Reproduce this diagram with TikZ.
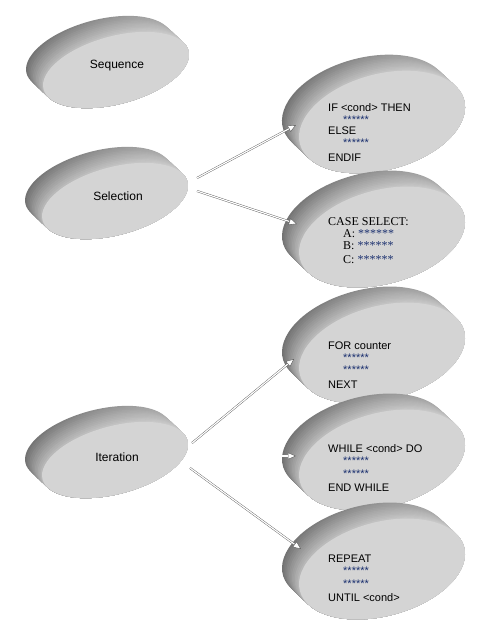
\documentclass[tikz,border=0pt]{standalone}
\usepackage{fontspec}
\setmainfont{Liberation Sans}
\newfontfamily\casefont{Liberation Serif}
\usetikzlibrary{arrows.meta}

\definecolor{starblue}{HTML}{1A2F6E}

% extruded disc: centre x, centre y, x radius, y radius
\newcommand{\disc}[4]{%
  \begin{scope}[shift={(#1,#2)}, rotate=15]
    \pgfmathsetmacro\ta{atan(-#4*(-12.28)/(#3*(-19.86)))}
    \pgfmathsetmacro\tb{\ta+180}
    \pgfmathsetmacro\tc{\ta+360}
    \pgfmathsetmacro\td{\ta+540}
    \foreach \k in {12,...,1}{
      \pgfmathsetmacro\s{\k/12}
      \pgfmathtruncatemacro\dl{27+2.5*\k}
      \pgfmathtruncatemacro\dr{19+0.8*\k}
      \shade[left color=black!\dl, right color=black!\dr]
        ({-12.28*\s+#3*cos(\tb)},{-19.86*\s+#4*sin(\tb)})
        arc[start angle=\tb, end angle=\tc, x radius=#3, y radius=#4]
        -- ({#3*cos(\tc)},{#4*sin(\tc)})
        arc[start angle=\tc, end angle=\td, x radius=#3, y radius=#4]
        -- cycle;
    }
    \fill[black!17] (0,0) ellipse [x radius=#3, y radius=#4];
  \end{scope}
}

\tikzset{
  disctitle/.style={font=\fontsize{12}{14}\selectfont, inner sep=0pt},
  codeline/.style={anchor=base west, font=\fontsize{11}{13}\selectfont, inner sep=0pt},
  caseline/.style={anchor=base west, font=\casefont\fontsize{12}{14}\selectfont, inner sep=0pt},
  starline/.style={codeline, text=starblue},
  flow/.style={draw=black!65, double=white, double distance=1.2pt,
               -{Triangle[open, length=8pt, width=7pt, fill=white]}}
}

\begin{document}
\begin{tikzpicture}[x=1pt, y=-1pt]
  \useasboundingbox (0,0) rectangle (483,632);

  % discs
  \disc{116}{70}{75}{34}
  \disc{115}{201}{75}{34}
  \disc{115}{460}{75}{34}
  \disc{382}{122}{85}{48}
  \disc{382}{237}{85}{47}
  \disc{382}{353}{85}{47}
  \disc{382}{460}{85}{47}
  \disc{382}{569}{85}{47}

  % titles
  \node[disctitle] (seq) at (117,66) {Sequence};
  \node[disctitle] (sel) at (118,196) {Selection};
  \node[disctitle] (iter) at (117,457) {Iteration};

  % IF
  \node[codeline] (if1) at (328,111) {IF <cond> THEN};
  \node[starline] (if2) at (343,123) {******};
  \node[codeline] (if3) at (328,134) {ELSE};
  \node[starline] (if4) at (343,146) {******};
  \node[codeline] (if5) at (328,161) {ENDIF};

  % CASE
  \node[caseline] (case1) at (328,225) {CASE SELECT:};
  \node[caseline] (case2) at (343,237) {A: \textcolor{starblue}{******}};
  \node[caseline] (case3) at (343,249) {B: \textcolor{starblue}{******}};
  \node[caseline] (case4) at (343,263) {C: \textcolor{starblue}{******}};

  % FOR
  \node[codeline] (for1) at (328,349) {FOR counter};
  \node[starline] (for2) at (343,361) {******};
  \node[starline] (for3) at (343,373) {******};
  \node[codeline] (for4) at (328,388) {NEXT};

  % WHILE
  \node[codeline] (while1) at (328,452) {WHILE <cond> DO};
  \node[starline] (while2) at (343,464) {******};
  \node[starline] (while3) at (343,477) {******};
  \node[codeline] (while4) at (328,491) {END WHILE};

  % REPEAT
  \node[codeline] (rep1) at (328,562) {REPEAT};
  \node[starline] (rep2) at (343,574) {******};
  \node[starline] (rep3) at (343,587) {******};
  \node[codeline] (rep4) at (328,601) {UNTIL <cond>};

  % arrow ends
  \coordinate (sel-up) at (197,178);
  \coordinate (if-in) at (296,125);
  \coordinate (sel-dn) at (197,191);
  \coordinate (case-in) at (297,224);
  \coordinate (iter-up) at (192,443);
  \coordinate (for-in) at (294,359);
  \coordinate (iter-mid) at (195,456);
  \coordinate (while-in) at (296,456);
  \coordinate (iter-dn) at (190,468);
  \coordinate (rep-in) at (301,549);

  \draw[flow] (sel-up) -- (if-in);
  \draw[flow] (sel-dn) -- (case-in);
  \draw[flow] (iter-up) -- (for-in);
  \draw[flow] (iter-mid) -- (while-in);
  \draw[flow] (iter-dn) -- (rep-in);
\end{tikzpicture}
\end{document}
